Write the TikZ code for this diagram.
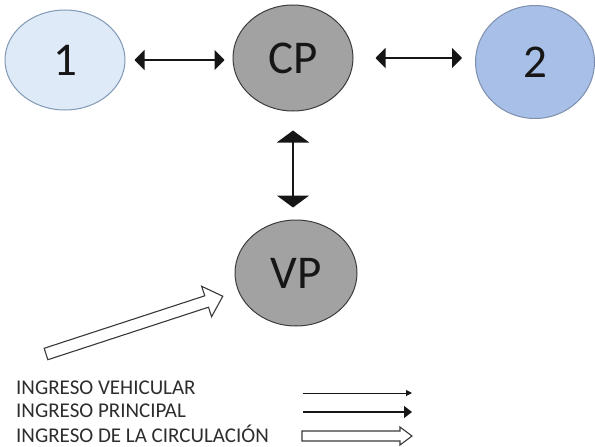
\documentclass[tikz,border=0pt]{standalone}
\usepackage{fontspec}
\setsansfont{Carlito}
\usetikzlibrary{arrows.meta,shapes.geometric}
\definecolor{ink}{HTML}{161616}
\definecolor{paleblue}{HTML}{DEEAF7}
\definecolor{paleedge}{HTML}{7F98B4}
\definecolor{midblue}{HTML}{A8BFE7}
\definecolor{midedge}{HTML}{7D8FAD}
\definecolor{stone}{HTML}{A2A2A2}
\definecolor{stoneedge}{HTML}{3C3C3C}

\begin{document}
\begin{tikzpicture}[font=\sffamily,>=Triangle,x=1pt,y=-1pt,
  station/.style={ellipse,inner sep=0pt,line width=1pt,text=ink,
    font=\sffamily\fontsize{47}{47}\selectfont},
  link/.style={<->,draw=ink,line width=1.6pt},
  legendtext/.style={anchor=west,inner sep=0pt,text=ink!90,
    font=\sffamily\fontsize{21}{21}\selectfont},
  pics/block arrow/.style args={#1,#2,#3,#4}{code={
    \draw[draw=ink!85,line width=1.1pt,fill=white,line join=miter]
      (0,-#2) -- ({#1-#4},-#2) -- ({#1-#4},-#3) -- (#1,0)
      -- ({#1-#4},#3) -- ({#1-#4},#2) -- (0,#2) -- cycle;}}]
  \useasboundingbox (0,0) rectangle (595,447);

  % access points
  \node[station,fill=paleblue,draw=paleedge,minimum width=120pt,
    minimum height=100pt] (n1) at (65,60) {1};
  \node[station,fill=stone,draw=stoneedge,minimum width=120pt,
    minimum height=106pt] (cp) at (293,58) {CP};
  \node[station,fill=midblue,draw=midedge,minimum width=119pt,
    minimum height=113pt] (n2) at (535,62) {2};
  \node[station,fill=stone,draw=stoneedge,minimum width=122pt,
    minimum height=106pt] (vp) at (296,273) {VP};

  % two-way links
  \draw[link,{Triangle[length=10pt,width=20pt]}-{Triangle[length=10pt,width=20pt]},
    shorten <=9pt,shorten >=8pt] (n1.east) -- (n1.east -| cp.west);
  \draw[link,{Triangle[length=10pt,width=20pt]}-{Triangle[length=10pt,width=20pt]},
    shorten <=22pt,shorten >=13pt] (cp.east) -- (n2.west |- cp.east);
  \draw[link,line width=2.4pt,
    {Triangle[length=12pt,width=32pt]}-{Triangle[length=12pt,width=32pt]},
    shorten <=19pt,shorten >=12pt] (cp.south) -- (cp.south |- vp.north);

  % vehicle entry
  \coordinate (entry) at (46,354);
  \pic[rotate=18.1] at (entry) {block arrow={186,6,16,17}};

  % legend
  \node[legendtext] (leg1) at (16,388) {INGRESO VEHICULAR};
  \node[legendtext] (leg2) at (16,411) {INGRESO PRINCIPAL};
  \node[legendtext] (leg3) at (16,434) {INGRESO DE LA CIRCULACIÓN};
  \coordinate (a1) at (303,393);
  \coordinate (b1) at (412,393);
  \coordinate (a2) at (303,412);
  \coordinate (b2) at (412,412);
  \coordinate (a3) at (302,436);
  \draw[-{Triangle[length=6pt,width=6pt]},draw=ink,line width=1pt] (a1) -- (b1);
  \draw[-{Triangle[length=8pt,width=12pt]},draw=ink,line width=1.2pt] (a2) -- (b2);
  \pic at (a3) {block arrow={110,5,9,12}};
\end{tikzpicture}
\end{document}
